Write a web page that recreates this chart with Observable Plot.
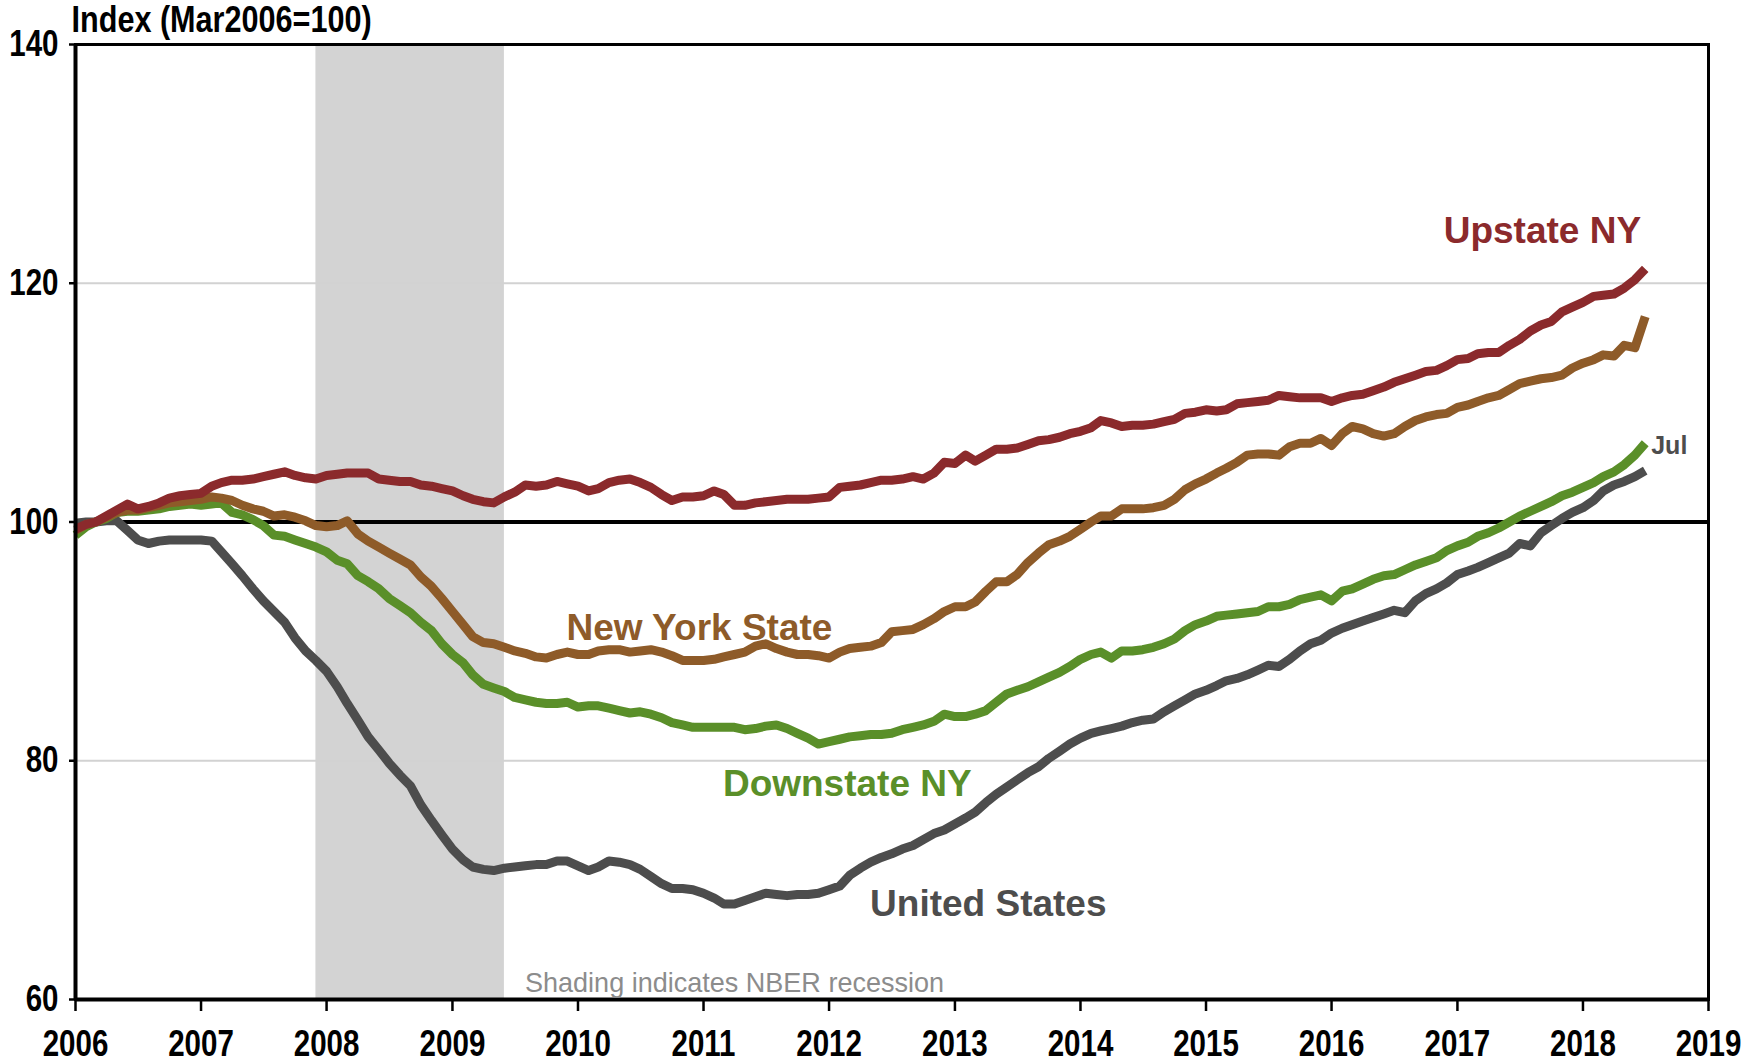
<!DOCTYPE html>
<html>
<head>
<meta charset="utf-8">
<script src="https://cdn.jsdelivr.net/npm/d3@7"></script>
<script src="https://cdn.jsdelivr.net/npm/@observablehq/plot@0.6"></script>
<style>
  html, body { margin: 0; padding: 0; background: #ffffff; }
  #chart svg { display: block; }
</style>
</head>
<body>
<div id="chart"></div>
<script>
// Monthly index values, Jan 2006 .. Jul 2018 (Mar 2006 = 100)
const upstateNY = [
  99.4, 99.8, 100.0, 100.5, 101.0, 101.5, 101.1, 101.3, 101.6, 102.0,
  102.2, 102.3, 102.4, 103.0, 103.3, 103.5, 103.5, 103.6, 103.8, 104.0,
  104.2, 103.9, 103.7, 103.6, 103.9, 104.0, 104.1, 104.1, 104.1, 103.6,
  103.5, 103.4, 103.4, 103.1, 103.0, 102.8, 102.6, 102.2, 101.9, 101.7,
  101.6, 102.1, 102.5, 103.1, 103.0, 103.1, 103.4, 103.2, 103.0, 102.6,
  102.8, 103.3, 103.5, 103.6, 103.3, 102.9, 102.3, 101.8, 102.1, 102.1,
  102.2, 102.6, 102.3, 101.4, 101.4, 101.6, 101.7, 101.8, 101.9, 101.9,
  101.9, 102.0, 102.1, 102.9, 103.0, 103.1, 103.3, 103.5, 103.5, 103.6,
  103.8, 103.6, 104.1, 105.0, 104.9, 105.6, 105.1, 105.6, 106.1, 106.1,
  106.2, 106.5, 106.8, 106.9, 107.1, 107.4, 107.6, 107.9, 108.5, 108.3,
  108.0, 108.1, 108.1, 108.2, 108.4, 108.6, 109.1, 109.2, 109.4, 109.3,
  109.4, 109.9, 110.0, 110.1, 110.2, 110.6, 110.5, 110.4, 110.4, 110.4,
  110.1, 110.4, 110.6, 110.7, 111.0, 111.3, 111.7, 112.0, 112.3, 112.6,
  112.7, 113.1, 113.6, 113.7, 114.1, 114.2, 114.2, 114.8, 115.3, 116.0,
  116.5, 116.8, 117.6, 118.0, 118.4, 118.9, 119.0, 119.1, 119.6, 120.3, 121.2
];
const newYorkState = [
  99.3, 99.8, 100.0, 100.4, 100.8, 101.0, 101.0, 101.2, 101.4, 101.6,
  101.7, 101.8, 101.9, 102.1, 102.0, 101.8, 101.4, 101.1, 100.9, 100.5,
  100.6, 100.4, 100.1, 99.7, 99.6, 99.7, 100.1, 99.0, 98.4, 97.9,
  97.4, 96.9, 96.4, 95.4, 94.6, 93.6, 92.5, 91.4, 90.4, 89.9,
  89.8, 89.5, 89.2, 89.0, 88.7, 88.6, 88.9, 89.1, 88.9, 88.9,
  89.2, 89.3, 89.3, 89.1, 89.2, 89.3, 89.1, 88.8, 88.4, 88.4,
  88.4, 88.5, 88.7, 88.9, 89.1, 89.6, 89.8, 89.4, 89.1, 88.9,
  88.9, 88.8, 88.6, 89.1, 89.4, 89.5, 89.6, 89.9, 90.8, 90.9,
  91.0, 91.4, 91.9, 92.5, 92.9, 92.9, 93.3, 94.2, 95.0, 95.0,
  95.6, 96.6, 97.4, 98.1, 98.4, 98.8, 99.4, 100.0, 100.5, 100.5,
  101.1, 101.1, 101.1, 101.2, 101.4, 101.9, 102.7, 103.2, 103.6, 104.1,
  104.5, 105.0, 105.6, 105.7, 105.7, 105.6, 106.3, 106.6, 106.6, 107.0,
  106.4, 107.4, 108.0, 107.8, 107.4, 107.2, 107.4, 108.0, 108.5, 108.8,
  109.0, 109.1, 109.6, 109.8, 110.1, 110.4, 110.6, 111.1, 111.6, 111.8,
  112.0, 112.1, 112.3, 112.9, 113.3, 113.6, 114.0, 113.9, 114.8, 114.6, 117.2
];
const downstateNY = [
  98.9, 99.6, 100.0, 100.3, 100.8, 100.9, 100.9, 101.0, 101.1, 101.3,
  101.4, 101.5, 101.4, 101.5, 101.6, 100.8, 100.6, 100.2, 99.7, 98.9,
  98.8, 98.5, 98.2, 97.9, 97.5, 96.8, 96.5, 95.5, 95.0, 94.4,
  93.6, 93.0, 92.4, 91.6, 90.9, 89.8, 88.9, 88.2, 87.2, 86.4,
  86.1, 85.8, 85.3, 85.1, 84.9, 84.8, 84.8, 84.9, 84.5, 84.6,
  84.6, 84.4, 84.2, 84.0, 84.1, 83.9, 83.6, 83.2, 83.0, 82.8,
  82.8, 82.8, 82.8, 82.8, 82.6, 82.7, 82.9, 83.0, 82.7, 82.3,
  81.9, 81.4, 81.6, 81.8, 82.0, 82.1, 82.2, 82.2, 82.3, 82.6,
  82.8, 83.0, 83.3, 83.9, 83.7, 83.7, 83.9, 84.2, 84.9, 85.6,
  85.9, 86.2, 86.6, 87.0, 87.4, 87.9, 88.5, 88.9, 89.1, 88.6,
  89.2, 89.2, 89.3, 89.5, 89.8, 90.2, 90.9, 91.4, 91.7, 92.1,
  92.2, 92.3, 92.4, 92.5, 92.9, 92.9, 93.1, 93.5, 93.7, 93.9,
  93.4, 94.2, 94.4, 94.8, 95.2, 95.5, 95.6, 96.0, 96.4, 96.7,
  97.0, 97.6, 98.0, 98.3, 98.8, 99.1, 99.5, 100.0, 100.5, 100.9,
  101.3, 101.7, 102.2, 102.5, 102.9, 103.3, 103.8, 104.2, 104.8, 105.6, 106.6
];
const unitedStates = [
  99.9, 100.0, 100.0, 100.1, 100.1, 99.3, 98.5, 98.2, 98.4, 98.5,
  98.5, 98.5, 98.5, 98.4, 97.5, 96.5, 95.5, 94.4, 93.4, 92.5,
  91.6, 90.3, 89.2, 88.4, 87.5, 86.2, 84.8, 83.4, 82.0, 80.9,
  79.8, 78.8, 77.9, 76.3, 75.0, 73.8, 72.6, 71.7, 71.1, 70.9,
  70.8, 71.0, 71.1, 71.2, 71.3, 71.3, 71.6, 71.6, 71.2, 70.8,
  71.1, 71.6, 71.5, 71.3, 70.9, 70.3, 69.7, 69.3, 69.3, 69.2,
  68.9, 68.5, 68.0, 68.0, 68.3, 68.6, 68.9, 68.8, 68.7, 68.8,
  68.8, 68.9, 69.2, 69.5, 70.4, 71.0, 71.5, 71.9, 72.2, 72.6,
  72.9, 73.4, 73.9, 74.2, 74.7, 75.2, 75.7, 76.5, 77.2, 77.8,
  78.4, 79.0, 79.5, 80.2, 80.8, 81.4, 81.9, 82.3, 82.5, 82.7,
  82.9, 83.2, 83.4, 83.5, 84.1, 84.6, 85.1, 85.6, 85.9, 86.3,
  86.7, 86.9, 87.2, 87.6, 88.0, 87.9, 88.5, 89.2, 89.8, 90.1,
  90.7, 91.1, 91.4, 91.7, 92.0, 92.3, 92.6, 92.4, 93.4, 94.0,
  94.4, 94.9, 95.6, 95.9, 96.2, 96.6, 97.0, 97.4, 98.2, 98.0,
  99.1, 99.7, 100.3, 100.8, 101.2, 101.8, 102.6, 103.1, 103.4, 103.8, 104.3
];

const yearTicks = [2006, 2007, 2008, 2009, 2010, 2011, 2012, 2013, 2014, 2015, 2016, 2017, 2018, 2019];
const valueTicks = [60, 80, 100, 120, 140];
const recession = [{start: "2007-12-01", end: "2009-06-01"}];

const seriesLabels = [
  {name: "Upstate NY", date: "2017-09-05", value: 124.4, color: "#8b2a2c"},
  {name: "New York State", date: "2010-12-20", value: 91.1, color: "#8e5b29"},
  {name: "Downstate NY", date: "2012-02-23", value: 78.0, color: "#5a8f29"},
  {name: "United States", date: "2013-04-08", value: 68.0, color: "#4d4d4d"}
];
const endLabel = {text: "Jul", date: "2018-07-01", value: 106.4};
const noteText = "Shading indicates NBER recession";
const noteDate = "2009-07-31";
const titleText = "Index (Mar2006=100)";

// ---- build tables ----
const months = d3.utcMonths(new Date(Date.UTC(2006, 0, 1)), new Date(Date.UTC(2018, 7, 1)));
const toRows = vals => months.map((d, i) => ({date: d, value: vals[i]}));
const parse = s => new Date(s + "T00:00:00Z");

const sans = "'Liberation Sans', Arial, sans-serif";

const lw = 9;
const lineOpts = color => ({x: "date", y: "value", stroke: color, strokeWidth: lw, strokeLinejoin: "round", strokeLinecap: "butt"});

const chart = Plot.plot({
  width: 1762,
  height: 1063,
  marginLeft: 75,
  marginRight: 54,
  marginTop: 44,
  marginBottom: 64,
  style: {background: "#ffffff", fontFamily: sans},
  x: {type: "utc", domain: [new Date(Date.UTC(2006, 0, 1)), new Date(Date.UTC(2019, 0, 1))]},
  y: {domain: [60, 140]},
  marks: [
    Plot.rect(recession, {x1: d => parse(d.start), x2: d => parse(d.end), fill: "#d3d3d3"}),
    Plot.ruleY([80, 120], {stroke: "#d2d2d2", strokeWidth: 2}),
    Plot.ruleY([100], {stroke: "#000000", strokeWidth: 4}),
    Plot.line(toRows(unitedStates), lineOpts("#4d4d4d")),
    Plot.line(toRows(downstateNY), lineOpts("#5a8f29")),
    Plot.line(toRows(newYorkState), lineOpts("#8e5b29")),
    Plot.line(toRows(upstateNY), lineOpts("#8b2a2c")),
    Plot.frame({stroke: "#000000", strokeWidth: 3}),
    Plot.ruleY([60], {stroke: "#000000", strokeWidth: 4}),
    Plot.ruleX([new Date(Date.UTC(2006, 0, 1))], {stroke: "#000000", strokeWidth: 4}),
    Plot.axisX(yearTicks.map(y => new Date(Date.UTC(y, 0, 1))), {
      tickFormat: d => String(d.getUTCFullYear()),
      tickSize: 12, tickPadding: 19, strokeWidth: 2.5, stroke: "#000000",
      fontSize: 36, fontWeight: "bold", fontFamily: sans, fill: "#000000", label: null
    }),
    Plot.axisY(valueTicks, {
      tickSize: 6, tickPadding: 11, strokeWidth: 2.5, stroke: "#000000",
      fontSize: 36, fontWeight: "bold", fontFamily: sans, fill: "#000000", label: null
    }),
    ...seriesLabels.map(s => Plot.text([s], {
      x: d => parse(d.date), y: "value", text: "name", fill: s.color,
      fontSize: 37, fontWeight: "bold", fontFamily: sans, textAnchor: "middle"
    })),
    Plot.text([endLabel], {
      x: d => parse(d.date), y: "value", text: "text", fill: "#4d4d4d",
      fontSize: 25, fontWeight: "bold", fontFamily: sans, textAnchor: "start", dx: 6
    }),
    Plot.text([noteText], {
      x: () => parse(noteDate), frameAnchor: "bottom", lineAnchor: "middle", text: d => d, dy: -16,
      fill: "#8c8c8c", fontSize: 28, fontFamily: sans, textAnchor: "start"
    }),
    Plot.text([titleText], {
      frameAnchor: "top-left", lineAnchor: "middle", text: d => d, dx: -4, dy: -24,
      fill: "#000000", fontSize: 36, fontWeight: "bold", fontFamily: sans, textAnchor: "start"
    })
  ]
});
document.getElementById("chart").appendChild(chart);

// Condense texts horizontally to imitate the narrow typeface of the original
function condenseEl(t, factor) {
  const len = t.getComputedTextLength();
  t.setAttribute("textLength", (len * factor).toFixed(1));
  t.setAttribute("lengthAdjust", "spacingAndGlyphs");
}
const yearStrings = new Set(yearTicks.map(String));
const valueStrings = new Set(valueTicks.map(String));
chart.querySelectorAll("text").forEach(t => {
  const s = t.textContent;
  if (yearStrings.has(s) || valueStrings.has(s)) condenseEl(t, 0.82);
  else if (s === titleText) condenseEl(t, 0.85);
  else if (s === noteText) condenseEl(t, 0.965);
});
</script>
</body>
</html>
